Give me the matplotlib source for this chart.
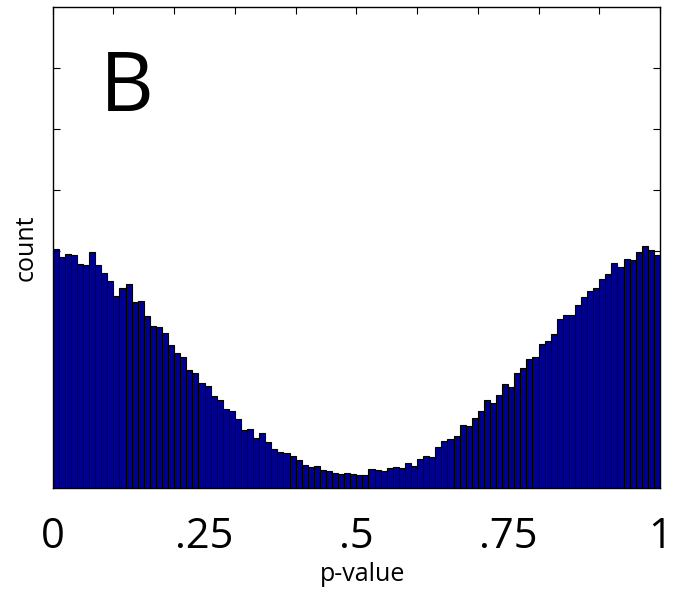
import numpy as np
import matplotlib.pyplot as plt

# histogram counts for 100 equal bins on [0, 1]
counts = [2387, 2313, 2340, 2327, 2243, 2233, 2363, 2230, 2147, 2073,
          1923, 2000, 2037, 1860, 1870, 1717, 1617, 1607, 1547, 1430,
          1347, 1307, 1180, 1147, 1047, 1017, 920, 877, 793, 773,
          687, 580, 587, 503, 547, 463, 387, 363, 347, 317,
          280, 233, 213, 223, 177, 170, 147, 137, 147, 140,
          133, 133, 187, 177, 167, 200, 207, 200, 250, 223,
          293, 323, 310, 407, 470, 493, 520, 627, 617, 700,
          773, 877, 853, 930, 1037, 1013, 1147, 1200, 1293, 1310,
          1437, 1473, 1543, 1693, 1733, 1733, 1827, 1910, 1967, 2003,
          2087, 2143, 2247, 2210, 2293, 2283, 2363, 2423, 2380, 2330]
xtick_vals = [0, 0.25, 0.5, 0.75, 1]
xtick_labels = ["0", ".25", ".5", ".75", "1"]

plt.rcParams['font.family'] = ['Open Sans', 'DejaVu Sans']

fig = plt.figure(figsize=(6.87, 5.90), dpi=100)
ax = fig.add_axes([0.0767, 0.1729, 0.884, 0.8152])

edges = np.linspace(0, 1, len(counts) + 1)
ax.bar(edges[:-1], counts, width=edges[1] - edges[0], align='edge',
       color='#000090', edgecolor='black', linewidth=0.8)

ax.set_xlim(0, 1)
ax.set_ylim(0, 4810)
ax.set_xticks(np.arange(0, 1.01, 0.1))
ax.set_yticks([2370, 2980, 3590, 4200])
ax.tick_params(direction='in', length=5, top=True, right=True, bottom=False,
               labelbottom=False, labelleft=False, width=0.8)
for s in ax.spines.values():
    s.set_linewidth(1.0)

for v, lab in zip(xtick_vals, xtick_labels):
    ax.text(v, -0.1247, lab, transform=ax.get_xaxis_transform(),
            ha='center', va='baseline', fontsize=30)

ax.text(0.51, -0.193, "p-value", transform=ax.transAxes,
        ha='center', va='baseline', fontsize=18)
fig.text(26 / 687, 1 - 248 / 590, "count", rotation=90,
         ha='center', va='center', fontsize=18)
ax.text(0.077, 0.784, "B", transform=ax.transAxes,
        ha='left', va='baseline', fontsize=60)

fig.savefig("out.png", dpi=100)
